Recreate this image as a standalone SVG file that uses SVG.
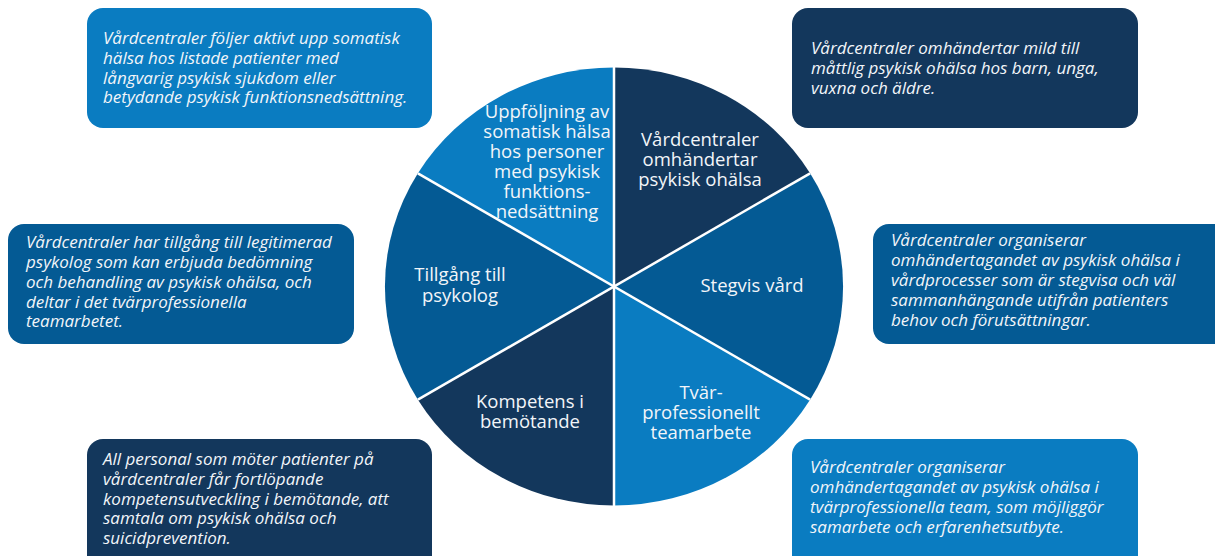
<svg xmlns="http://www.w3.org/2000/svg" width="1215" height="556" viewBox="0 0 1215 556">
<style>
.light{fill:#0a7cc1}
.navy{fill:#13375c}
.mid{fill:#045a94}
.box text{font-family:"Open Sans","Noto Sans","Liberation Sans",sans-serif;font-style:italic;font-size:17px;fill:#f2f5f9}
.seg text{font-family:"Open Sans","Noto Sans","Liberation Sans",sans-serif;font-size:18.5px;fill:#f2f5f9;text-anchor:middle}
.div{stroke:#ffffff;stroke-width:2.5;fill:none}
</style>
<rect width="1215" height="556" fill="#ffffff"/>

<g id="wheel">
<g id="seg-omhandertar" class="seg">
<path class="navy" d="M614 286.5 L614 67.5 A229 219 0 0 1 810.1 173.3 Z"/>
<text><tspan x="700" y="146">Vårdcentraler</tspan><tspan x="700" y="166">omhändertar</tspan><tspan x="700" y="186">psykisk ohälsa</tspan></text>
</g>
<g id="seg-stegvis" class="seg">
<path class="mid" d="M614 286.5 L810.1 173.3 A229 219 0 0 1 810.1 399.7 Z"/>
<text x="752" y="292">Stegvis vård</text>
</g>
<g id="seg-team" class="seg">
<path class="light" d="M614 286.5 L810.1 399.7 A229 219 0 0 1 614 505.5 Z"/>
<text><tspan x="701" y="399">Tvär-</tspan><tspan x="701" y="419">professionellt</tspan><tspan x="701" y="439">teamarbete</tspan></text>
</g>
<g id="seg-kompetens" class="seg">
<path class="navy" d="M614 286.5 L614 505.5 A229 219 0 0 1 417.9 399.7 Z"/>
<text><tspan x="530" y="408">Kompetens i</tspan><tspan x="530" y="428">bemötande</tspan></text>
</g>
<g id="seg-psykolog" class="seg">
<path class="mid" d="M614 286.5 L417.9 399.7 A229 219 0 0 1 417.9 173.3 Z"/>
<text><tspan x="460" y="281">Tillgång till</tspan><tspan x="460" y="302">psykolog</tspan></text>
</g>
<g id="seg-somatisk" class="seg">
<path class="light" d="M614 286.5 L417.9 173.3 A229 219 0 0 1 614 67.5 Z"/>
<text><tspan x="547" y="118">Uppföljning av</tspan><tspan x="547" y="138">somatisk hälsa</tspan><tspan x="547" y="158">hos personer</tspan><tspan x="547" y="178">med psykisk</tspan><tspan x="547" y="198">funktions-</tspan><tspan x="547" y="218">nedsättning</tspan></text>
</g>
</g>

<g id="dividers">
<line class="div" x1="614" y1="64" x2="614" y2="509"/>
<line class="div" x1="417.9" y1="173.3" x2="810.1" y2="399.7"/>
<line class="div" x1="417.9" y1="399.7" x2="810.1" y2="173.3"/>
</g>

<g id="box-somatisk" class="box">
<rect class="light" x="87" y="8" width="345" height="120" rx="16"/>
<text><tspan x="103" y="44">Vårdcentraler följer aktivt upp somatisk</tspan><tspan x="103" y="64">hälsa hos listade patienter med</tspan><tspan x="103" y="83.5">långvarig psykisk sjukdom eller</tspan><tspan x="103" y="103">betydande psykisk funktionsnedsättning.</tspan></text>
</g>
<g id="box-omhandertar" class="box">
<rect class="navy" x="792" y="8" width="346" height="120" rx="16"/>
<text><tspan x="811" y="54">Vårdcentraler omhändertar mild till</tspan><tspan x="811" y="74">måttlig psykisk ohälsa hos barn, unga,</tspan><tspan x="811" y="94">vuxna och äldre.</tspan></text>
</g>
<g id="box-psykolog" class="box">
<rect class="mid" x="8" y="224" width="346" height="120" rx="16"/>
<text><tspan x="26" y="248">Vårdcentraler har tillgång till legitimerad</tspan><tspan x="26" y="268">psykolog som kan erbjuda bedömning</tspan><tspan x="26" y="288">och behandling av psykisk ohälsa, och</tspan><tspan x="26" y="308">deltar i det tvärprofessionella</tspan><tspan x="26" y="327">teamarbetet.</tspan></text>
</g>
<g id="box-stegvis" class="box">
<rect class="mid" x="873" y="224" width="360" height="120" rx="16"/>
<text><tspan x="891" y="246">Vårdcentraler organiserar</tspan><tspan x="891" y="266">omhändertagandet av psykisk ohälsa i</tspan><tspan x="891" y="286">vårdprocesser som är stegvisa och väl</tspan><tspan x="891" y="306">sammanhängande utifrån patienters</tspan><tspan x="891" y="326">behov och förutsättningar.</tspan></text>
</g>
<g id="box-kompetens" class="box">
<rect class="navy" x="87" y="439" width="345" height="135" rx="16"/>
<text><tspan x="103" y="465">All personal som möter patienter på</tspan><tspan x="103" y="485">vårdcentraler får fortlöpande</tspan><tspan x="103" y="504.5">kompetensutveckling i bemötande, att</tspan><tspan x="103" y="524">samtala om psykisk ohälsa och</tspan><tspan x="103" y="543.5">suicidprevention.</tspan></text>
</g>
<g id="box-team" class="box">
<rect class="light" x="792" y="439" width="346" height="135" rx="16"/>
<text><tspan x="810" y="473">Vårdcentraler organiserar</tspan><tspan x="810" y="493">omhändertagandet av psykisk ohälsa i</tspan><tspan x="810" y="513">tvärprofessionella team, som möjliggör</tspan><tspan x="810" y="533">samarbete och erfarenhetsutbyte.</tspan></text>
</g>
</svg>
